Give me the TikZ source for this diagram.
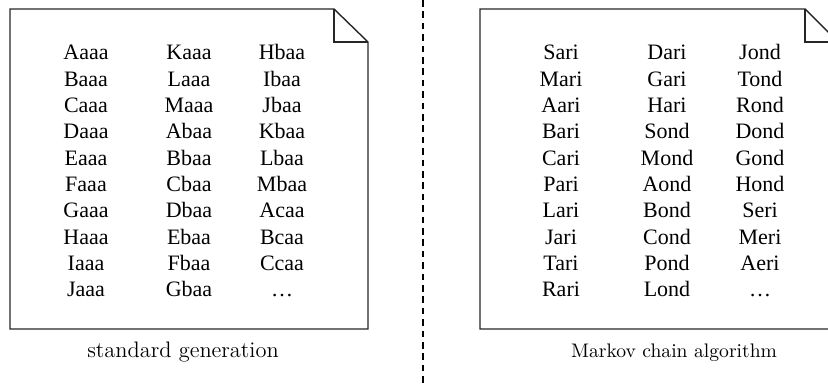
\documentclass[tikz,border=0pt]{standalone}
\usepackage{fontspec}
\newfontfamily\wordfont{Liberation Serif}

\begin{document}
\begin{tikzpicture}[x=0.5pt, y=-0.5pt,
  sheet/.style={draw=black!85, line width=0.7pt, line join=miter},
  entry/.style={anchor=base, inner sep=0pt, font=\wordfont\fontsize{11}{13}\selectfont},
  caption/.style={anchor=base, inner sep=0pt},
  divider/.style={draw=black, line width=1pt, dash pattern=on 3.3pt off 2.4pt}]
  \clip (0,0) rectangle (828,385);

  % left sheet, dog-eared in the top right corner
  \draw[sheet] (10,9) -- (334,9) -- (368,42) -- (368,329) -- (10,329) -- cycle;
  \draw[sheet] (334,9) |- (368,42);
  % (\ldots, not three dots: foreach would read those as a range)
  \foreach \x/\col [count=\c] in {
      86/{Aaaa,Baaa,Caaa,Daaa,Eaaa,Faaa,Gaaa,Haaa,Iaaa,Jaaa},
      189/{Kaaa,Laaa,Maaa,Abaa,Bbaa,Cbaa,Dbaa,Ebaa,Fbaa,Gbaa},
      282/{Hbaa,Ibaa,Jbaa,Kbaa,Lbaa,Mbaa,Acaa,Bcaa,Ccaa,\ldots}}
    \foreach \w [count=\r from 0] in \col
      \node[entry] (std-\c-\r) at (\x, {60+26.3*\r}) {\w};
  \node[caption, font=\fontsize{11.2}{13}\selectfont] (stdcap) at (183,357.7) {standard generation};

  % separator
  \coordinate (sepTop) at (423,0);
  \coordinate (sepBot) at (423,385);
  \draw[divider] (sepTop) -- (sepBot);

  % right sheet
  \draw[sheet] (480,9) -- (805,9) -- (838,42) -- (838,329) -- (480,329) -- cycle;
  \draw[sheet] (805,9) |- (838,42);
  \foreach \x/\col [count=\c] in {
      561/{Sari,Mari,Aari,Bari,Cari,Pari,Lari,Jari,Tari,Rari},
      667/{Dari,Gari,Hari,Sond,Mond,Aond,Bond,Cond,Pond,Lond},
      760/{Jond,Tond,Rond,Dond,Gond,Hond,Seri,Meri,Aeri,\ldots}}
    \foreach \w [count=\r from 0] in \col
      \node[entry] (mkv-\c-\r) at (\x, {60+26.3*\r}) {\w};
  \node[caption, font=\fontsize{9.8}{12}\selectfont] (mkvcap) at (674,357.7) {Markov chain algorithm};
\end{tikzpicture}
\end{document}
